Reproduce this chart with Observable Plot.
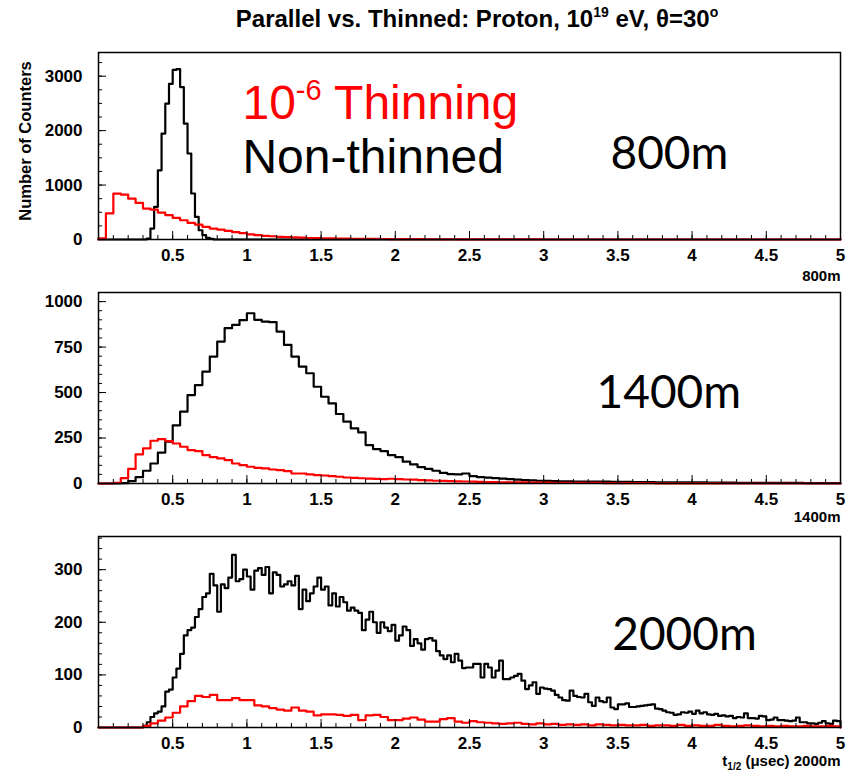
<!DOCTYPE html>
<html>
<head>
<meta charset="utf-8">
<script src="https://cdn.jsdelivr.net/npm/d3@7"></script>
<script src="https://cdn.jsdelivr.net/npm/@observablehq/plot@0.6"></script>
<style>
  body { margin: 0; background: #fff; }
  #wrap { position: relative; width: 850px; height: 771px; overflow: hidden; background: #fff; }
  #title { position: absolute; left: 477px; top: 5px; transform: translateX(-50%); white-space: nowrap;
           font-family: "Liberation Sans", Arial, sans-serif; font-weight: bold; font-size: 24px; color: #000; }
  #title sup { font-size: 14px; vertical-align: 10px; line-height: 0; }
  .panel { position: absolute; left: 0; }
</style>
</head>
<body>
<div id="wrap">
  <div id="title">Parallel vs. Thinned: Proton, 10<sup>19</sup> eV, θ=30<sup>o</sup></div>
</div>
<script>
// ---------- data (histogram bin contents, Number of Counters) ----------
const xMajorTicks = [0.5, 1, 1.5, 2, 2.5, 3, 3.5, 4, 4.5, 5];

// 800 m
const black800Start = 0.30, black800Width = 0.025;
const black800 = [0, 18, 200, 600, 1270, 1945, 2495, 2860, 3115, 3130, 2800, 2130, 1580, 845, 415, 170, 80, 30, 10];
const red800Start = 0.0, red800Width = 0.05;
const red800 = [20, 480, 843, 825, 750, 672, 568, 550, 495, 446, 397, 354, 305, 275, 232, 200, 183, 158, 134, 116,
  95, 80, 68, 60, 50, 44, 38, 33, 28, 25, 22, 20, 18, 16, 14, 12, 11, 10, 9, 8,
  7, 7, 6, 6, 5, 5, 4, 5, 4, 4, 3, 4, 3, 3, 3, 2, 2, 2, 3, 1];

// 1400 m
const black1400Start = 0.15, black1400Width = 0.05;
const black1400 = [2, 13, 35, 70, 110, 170, 230, 320, 395, 486, 541, 615, 698, 780, 854, 872, 898, 936, 900, 890,
  887, 835, 762, 698, 643, 606, 532, 477, 440, 382, 340, 303, 281, 211, 189, 178, 156, 145, 120, 105,
  90, 80, 70, 58, 52, 50, 55, 40, 35, 32, 30, 27, 24, 21, 19, 17, 15, 14, 13, 12,
  12, 11, 11, 10, 10, 10, 9, 9, 9, 8, 8, 8, 7, 7, 7, 6, 6, 6, 6, 5,
  5, 5, 5, 4, 4, 4, 4, 3, 3, 3, 3, 3, 2, 2, 2, 2, 2];
const red1400Start = 0.10, red1400Width = 0.05;
const red1400 = [3, 30, 80, 160, 193, 235, 244, 233, 220, 202, 184, 178, 156, 145, 138, 128, 110, 101, 92, 86,
  83, 77, 73, 68, 55, 55, 50, 46, 44, 40, 37, 33, 31, 29, 27, 25, 24, 26, 24, 22,
  21, 19, 17, 15, 14, 13, 12, 11, 10, 9, 8, 8, 7, 7, 6, 6, 5, 5, 5, 4,
  4, 4, 3, 3, 3, 3, 2, 2, 2, 2, 2, 2, 2, 1, 1, 1, 1, 1, 1, 1, 1, 1];

// 2000 m
const black2000Start = 0.30, black2000Width = 0.025;
const black2000 = [3, 10, 20, 27, 30, 40, 68, 72, 95, 112, 140, 175, 185, 190, 210, 225, 248, 255, 292, 270,
  220, 272, 265, 285, 328, 278, 282, 300, 287, 262, 298, 303, 290, 305, 255, 295, 290, 268, 272, 278,
  270, 288, 225, 262, 240, 255, 268, 285, 262, 268, 232, 255, 230, 248, 238, 222, 228, 222, 218, 185,
  205, 220, 200, 180, 200, 190, 183, 195, 165, 175, 192, 185, 155, 168, 160, 148, 168,
  170, 165, 145, 137, 130, 137, 124, 140, 127, 113, 114, 114, 121, 121, 95, 121, 114, 95, 108, 127,
  92, 92, 95, 98, 102, 89, 73, 80, 86, 64, 76, 74, 73, 70, 62, 57, 52, 51, 70, 60,
  58, 57, 64, 48, 41, 57, 50, 48, 57, 38, 35, 44, 44, 46, 39, 39, 40, 41, 42, 43,
  44, 36, 35, 32, 29, 28, 24, 25, 29, 28, 30, 26, 32, 27, 29, 25, 24, 26, 22, 23,
  21, 22, 18, 20, 19, 27, 18, 18, 17, 22, 21, 14, 15, 19, 14, 14, 13, 12, 13, 19,
  10, 10, 8, 8, 7, 9, 12, 8, 7, 13, 12];
const red2000Start = 0.30, red2000Width = 0.05;
const red2000 = [3, 8, 13, 19, 28, 40, 50, 60, 58, 62, 52, 52, 56, 52, 52, 42, 40, 37, 34, 32,
  38, 32, 30, 23, 25, 25, 24, 22, 24, 14, 23, 24, 20, 14, 14, 17, 19, 15, 11,
  11, 16, 18, 11, 9, 12, 10, 9, 8, 7, 8, 9, 7, 6, 8, 6, 7, 5, 6, 5,
  6, 4, 6, 5, 4, 5, 4, 4, 5, 3, 4, 4, 3, 5, 3, 4, 3, 3, 5, 3,
  2, 3, 4, 3, 2, 3, 2, 3, 2, 2, 3, 2, 2, 3, 2];

// ---------- helpers ----------
const X_MAX = 5;
function hist(start, width, values) {
  const pts = [{t: 0, v: 0}];
  values.forEach((v, i) => {
    const t = start + i * width;
    if (t < X_MAX - 1e-9) pts.push({t, v});
  });
  const end = Math.min(X_MAX, start + values.length * width);
  pts.push({t: end, v: 0});
  pts.push({t: X_MAX, v: 0});
  return pts;
}
const range = (a, b, s) => d3.range(Math.round((b - a) / s) + 1).map(i => +(a + i * s).toFixed(6));
const xMinorTicks = range(0.1, 4.9, 0.1);

const FONT = "Liberation Sans, Arial, sans-serif";

function panel(cfg) {
  const marks = [
    Plot.line(hist(...cfg.black), {x: "t", y: "v", curve: "step-after", stroke: "#000", strokeWidth: 2.2}),
    Plot.line(hist(...cfg.red), {x: "t", y: "v", curve: "step-after", stroke: "#ff0000", strokeWidth: 2.2}),
    Plot.axisX({ticks: xMinorTicks, tickSize: -4, tickFormat: () => "", label: null}),
    Plot.axisX({ticks: xMajorTicks, tickSize: -8, tickPadding: 17, tickFormat: d => String(d), label: null,
      fontSize: 17, fontWeight: "bold", fontFamily: FONT}),
    Plot.axisY({ticks: cfg.yMinor, tickSize: -4, tickFormat: () => "", label: null}),
    Plot.axisY({ticks: cfg.yMajor, tickSize: -8, tickPadding: 24, tickFormat: d => String(d), label: null,
      fontSize: 17, fontWeight: "bold", fontFamily: FONT}),
    Plot.frame({stroke: "#000", strokeWidth: 1.5}),
    Plot.text([cfg.bottomLabel], {frameAnchor: "bottom-right", dy: cfg.bottomDy, textAnchor: "end", lineAnchor: "bottom",
      fontSize: 15, fontWeight: "bold", fontFamily: FONT, fill: "#000"}),
    Plot.text([cfg.dist], {x: cfg.distPos[0], y: cfg.distPos[1], textAnchor: "start", lineAnchor: "bottom",
      fontSize: 46, fontFamily: "Lato, sans-serif", fill: "#000"})
  ];
  if (cfg.extra) marks.push(...cfg.extra);
  const svg = Plot.plot({
    width: 850, height: cfg.height,
    marginLeft: 98, marginRight: 10, marginTop: cfg.mt, marginBottom: cfg.mb,
    x: {domain: [0, X_MAX], label: null},
    y: {domain: [0, cfg.yMax], label: null},
    style: {fontFamily: FONT, background: "transparent", color: "#000", overflow: "visible"},
    marks
  });
  svg.classList.add("panel");
  svg.style.top = cfg.top + "px";
  document.getElementById("wrap").appendChild(svg);
  return svg;
}

// ---------- panels ----------
const p1 = panel({
  top: 40, height: 245, mt: 12, mb: 46, yMax: 3435,
  yMajor: [0, 1000, 2000, 3000], yMinor: range(250, 3250, 250),
  black: [black800Start, black800Width, black800], red: [red800Start, red800Width, red800],
  bottomLabel: "800m", bottomDy: 41, dist: "800m", distPos: [3.45, 1303],
  extra: [
    Plot.text(["Number of Counters"], {frameAnchor: "left", rotate: -90, dx: -73, dy: -5, textAnchor: "middle", lineAnchor: "middle",
      fontSize: 16.5, fontWeight: "bold", fontFamily: FONT, fill: "#000"}),
    Plot.text(["10-6 Thinning"], {x: 0.97, y: 2207, textAnchor: "start", lineAnchor: "bottom",
      fontSize: 48, fontFamily: FONT, fill: "#ff0000"}),
    Plot.text(["Non-thinned"], {x: 0.97, y: 1217, textAnchor: "start", lineAnchor: "bottom",
      fontSize: 48, fontFamily: FONT, fill: "#000"})
  ]
});
const p2 = panel({
  top: 285, height: 245, mt: 7, mb: 47, yMax: 1050,
  yMajor: [0, 250, 500, 750, 1000], yMinor: range(50, 1050, 50),
  black: [black1400Start, black1400Width, black1400], red: [red1400Start, red1400Width, red1400],
  bottomLabel: "1400m", bottomDy: 38, dist: "1400m", distPos: [3.356, 413]
});
const p3 = panel({
  top: 530, height: 241, mt: 6, mb: 44, yMax: 363,
  yMajor: [0, 100, 200, 300], yMinor: range(20, 360, 20),
  black: [black2000Start, black2000Width, black2000], red: [red2000Start, red2000Width, red2000],
  bottomLabel: "t1/2 (μsec) 2000m", bottomDy: 38, dist: "2000m", distPos: [3.462, 147]
});

// ---------- superscript / subscript text ----------
d3.select(p1).selectAll("text").each(function () {
  if (this.textContent === "10-6 Thinning") {
    const t = d3.select(this); t.text("");
    t.append("tspan").text("10");
    t.append("tspan").attr("font-size", 29).attr("dy", -19).text("-6");
    t.append("tspan").attr("dy", 19).text(" Thinning");
  }
});
d3.select(p3).selectAll("text").each(function () {
  if (this.textContent === "t1/2 (μsec) 2000m") {
    const t = d3.select(this); t.text("");
    t.append("tspan").text("t");
    t.append("tspan").attr("font-size", 10).attr("dy", 4).text("1/2");
    t.append("tspan").attr("dy", -4).text(" (μsec) 2000m");
  }
});
</script>
</body>
</html>
